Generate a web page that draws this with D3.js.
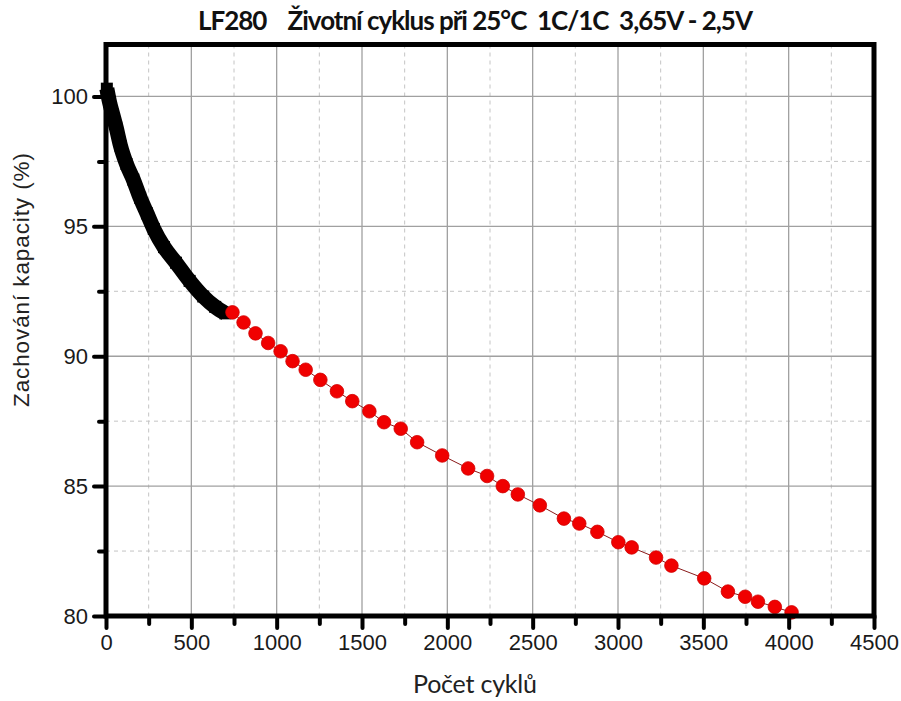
<!DOCTYPE html>
<html>
<head>
<meta charset="utf-8">
<script src="https://cdn.jsdelivr.net/npm/d3@7"></script>
<style>
  body { margin: 0; background: #fff; }
  svg { display: block; }
  .tick text { font-family: "Liberation Sans", Arial, sans-serif; font-size: 22px; fill: #1a1a1a; }
</style>
</head>
<body>
<div id="chart"></div>
<script>
var svgWidth = 901;
var svgHeight = 701;

// black measured band (cycles 0 - 700)
var blackCycles = [5, 20, 40, 60, 85, 120, 160, 200, 240, 280, 340, 410, 490, 570, 640, 700];
var blackCapacity = [100.3, 99.8, 99.3, 98.8, 98.1, 97.4, 96.8, 96.1, 95.5, 94.9, 94.2, 93.6, 92.9, 92.3, 91.9, 91.65];

// red points (cycles 740 - 4020)
var redCycles = [741, 806, 876, 950, 1023, 1093, 1170, 1256, 1353, 1443, 1543, 1629, 1727, 1823, 1970,
    2122, 2233, 2325, 2413, 2542, 2683, 2773, 2879, 3002, 3080, 3223, 3313, 3505, 3644, 3745, 3820, 3919, 4017];
var redCapacity = [91.69, 91.30, 90.88, 90.51, 90.19, 89.81, 89.48, 89.09, 88.65, 88.27, 87.88, 87.46, 87.21, 86.69, 86.18,
    85.68, 85.39, 85.0, 84.68, 84.26, 83.75, 83.56, 83.24, 82.84, 82.64, 82.25, 81.94, 81.45, 80.94, 80.74, 80.55, 80.35, 80.14];

var xTicks = [0, 500, 1000, 1500, 2000, 2500, 3000, 3500, 4000, 4500];
var xMinor = [250, 750, 1250, 1750, 2250, 2750, 3250, 3750, 4250];
var yTicks = [80, 85, 90, 95, 100];
var yMinor = [82.5, 87.5, 92.5, 97.5];

var title = "LF280    Životní cyklus při 25°C  1C/1C  3,65V - 2,5V";
var xTitle = "Počet cyklů";
var yTitle = "Zachování kapacity (%)";

var plot = { left: 106, right: 874, top: 44.5, bottom: 616 };

var svg = d3.select("#chart")
    .append("svg")
    .attr("width", svgWidth)
    .attr("height", svgHeight);

var xScale = d3.scaleLinear()
    .domain([0, 4500])
    .range([plot.left, plot.right]);

var yScale = d3.scaleLinear()
    .domain([80, 102])
    .range([plot.bottom, plot.top]);

/// grid
var grid = svg.append("g");

grid.selectAll(".vminor")
    .data(xMinor)
    .enter()
    .append("line")
    .attr("x1", d => xScale(d)).attr("x2", d => xScale(d))
    .attr("y1", plot.top).attr("y2", plot.bottom)
    .attr("stroke", "#c4c4c4").attr("stroke-width", 1).attr("stroke-dasharray", "4,4");

grid.selectAll(".hminor")
    .data(yMinor)
    .enter()
    .append("line")
    .attr("y1", d => yScale(d)).attr("y2", d => yScale(d))
    .attr("x1", plot.left).attr("x2", plot.right)
    .attr("stroke", "#c4c4c4").attr("stroke-width", 1).attr("stroke-dasharray", "4,4");

grid.selectAll(".vmajor")
    .data(xTicks.slice(1, -1))
    .enter()
    .append("line")
    .attr("x1", d => xScale(d)).attr("x2", d => xScale(d))
    .attr("y1", plot.top).attr("y2", plot.bottom)
    .attr("stroke", "#a0a0a0").attr("stroke-width", 1.3);

grid.selectAll(".hmajor")
    .data(yTicks.slice(1))
    .enter()
    .append("line")
    .attr("y1", d => yScale(d)).attr("y2", d => yScale(d))
    .attr("x1", plot.left).attr("x2", plot.right)
    .attr("stroke", "#a0a0a0").attr("stroke-width", 1.3);

/// black band
var blackData = blackCycles.map((c, i) => ({ c: c, v: blackCapacity[i] }));
var line = d3.line().x(d => xScale(d.c)).y(d => yScale(d.v));

svg.append("path")
    .datum(blackData)
    .attr("d", line.curve(d3.curveMonotoneX))
    .attr("fill", "none")
    .attr("stroke", "#000")
    .attr("stroke-width", 15)
    .attr("stroke-linejoin", "round");

svg.selectAll(".sq")
    .data(blackData)
    .enter()
    .append("rect")
    .attr("x", d => xScale(d.c) - 6)
    .attr("y", d => yScale(d.v) - 6)
    .attr("width", 12)
    .attr("height", 12)
    .attr("fill", "#000");

/// red points
var redData = redCycles.map((c, i) => ({ c: c, v: redCapacity[i] }));

svg.append("path")
    .datum(redData)
    .attr("d", d3.line().x(d => xScale(d.c)).y(d => yScale(d.v)))
    .attr("fill", "none")
    .attr("stroke", "#8a1a1a")
    .attr("stroke-width", 1);

svg.selectAll(".dot")
    .data(redData)
    .enter()
    .append("circle")
    .attr("cx", d => xScale(d.c))
    .attr("cy", d => yScale(d.v))
    .attr("r", 6.8)
    .attr("fill", "#f00000")
    .attr("stroke", "#d00000")
    .attr("stroke-width", 0.8);

/// axes
function styleAxis(g) {
    g.select(".domain").remove();
    g.selectAll(".tick line").attr("stroke", "#000").attr("stroke-width", 4).attr("stroke-linecap", "round");
}

svg.append("g")
    .attr("transform", `translate(0, ${plot.bottom})`)
    .call(d3.axisBottom(xScale).tickValues(xMinor).tickSize(8).tickFormat(""))
    .call(styleAxis);

svg.append("g")
    .attr("transform", `translate(0, ${plot.bottom})`)
    .call(d3.axisBottom(xScale).tickValues(xTicks).tickSize(12).tickPadding(6).tickFormat(d3.format("d")))
    .call(styleAxis);

svg.append("g")
    .attr("transform", `translate(${plot.left}, 0)`)
    .call(d3.axisLeft(yScale).tickValues(yMinor).tickSize(7).tickFormat(""))
    .call(styleAxis);

svg.append("g")
    .attr("transform", `translate(${plot.left}, 0)`)
    .call(d3.axisLeft(yScale).tickValues(yTicks).tickSize(12).tickPadding(6).tickFormat(d3.format("d")))
    .call(styleAxis);

// frame
svg.append("rect")
    .attr("x", plot.left)
    .attr("y", plot.top)
    .attr("width", plot.right - plot.left)
    .attr("height", plot.bottom - plot.top)
    .attr("fill", "none")
    .attr("stroke", "#000")
    .attr("stroke-width", 5);

/// titles
svg.append("text")
    .attr("x", 475.5)
    .attr("y", 30)
    .attr("text-anchor", "middle")
    .attr("textLength", 555)
    .attr("lengthAdjust", "spacing")
    .style("white-space", "pre")
    .style("font-family", "Lato, 'Open Sans', sans-serif")
    .style("font-weight", "bold")
    .style("font-size", "26px")
    .attr("fill", "#111")
    .text(title);

svg.append("text")
    .attr("x", 475)
    .attr("y", 693)
    .attr("text-anchor", "middle")
    .attr("textLength", 124)
    .attr("lengthAdjust", "spacing")
    .style("font-family", "Lato, 'Open Sans', sans-serif")
    .style("font-size", "25px")
    .attr("fill", "#222")
    .text(xTitle);

svg.append("text")
    .attr("transform", "translate(29, 280) rotate(-90)")
    .attr("text-anchor", "middle")
    .attr("textLength", 254)
    .attr("lengthAdjust", "spacing")
    .style("font-family", "'Liberation Sans', Arial, sans-serif")
    .style("font-size", "22.5px")
    .attr("fill", "#222")
    .text(yTitle);
</script>
</body>
</html>
